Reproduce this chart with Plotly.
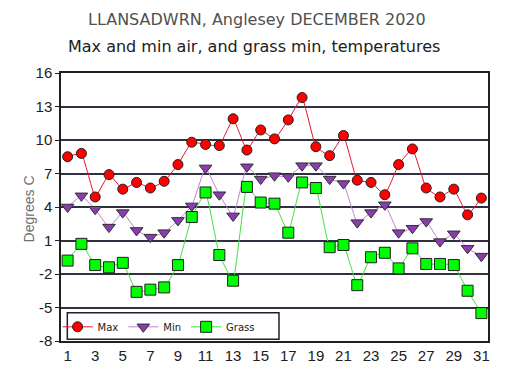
import plotly.graph_objects as go

days = list(range(1, 32))
max_temp = [8.5, 8.8, 4.9, 6.9, 5.6, 6.2, 5.7, 6.3, 7.8, 9.8, 9.6, 9.5, 11.9, 9.1, 10.9, 10.1,
            11.8, 13.8, 9.4, 8.6, 10.4, 6.4, 6.2, 5.1, 7.8, 9.2, 5.7, 4.9, 5.6, 3.3, 4.8]
min_temp = [4.0, 5.0, 3.8, 2.2, 3.5, 1.9, 1.3, 1.7, 2.8, 4.1, 7.5, 5.1, 3.2, 7.6, 6.5, 6.8,
            6.7, 7.7, 7.7, 6.5, 6.1, 2.6, 3.5, 4.2, 1.7, 2.1, 2.7, 0.9, 1.6, 0.3, -0.4]
grass_temp = [-0.8, 0.7, -1.2, -1.4, -1.0, -3.6, -3.4, -3.2, -1.2, 3.1, 5.3, -0.3, -2.6, 5.8, 4.4, 4.3,
              1.7, 6.2, 5.7, 0.4, 0.6, -3.0, -0.5, -0.1, -1.5, 0.3, -1.1, -1.1, -1.2, -3.5, -5.5]
y_ticks = [-8, -5, -2, 1, 4, 7, 10, 13, 16]
y_tick_labels = ["-8", "-5", "-2", "1", "4", "7", "10", "13", "16"]
x_ticks = list(range(1, 32, 2))
x_tick_labels = [str(v) for v in x_ticks]

fig = go.Figure()
fig.add_trace(go.Scatter(x=days, y=max_temp, name="Max", mode="lines+markers",
                         line=dict(color="#e8102a", width=1, shape="spline", smoothing=0.3),
                         marker=dict(symbol="circle", size=10, color="#ff0000",
                                     line=dict(color="#202020", width=1))))
fig.add_trace(go.Scatter(x=days, y=min_temp, name="Min", mode="lines+markers",
                         line=dict(color="#c080d0", width=1, shape="spline", smoothing=0.3),
                         marker=dict(symbol="triangle-down", size=11, color="#8a3cb0",
                                     line=dict(color="#303030", width=1))))
fig.add_trace(go.Scatter(x=days, y=grass_temp, name="Grass", mode="lines+markers",
                         line=dict(color="#40e040", width=1, shape="spline", smoothing=0.3),
                         marker=dict(symbol="square", size=11, color="#00ff00",
                                     line=dict(color="#202020", width=1))))

fig.update_layout(
    width=501, height=368,
    margin=dict(l=53, r=21, t=65, b=35, autoexpand=False),
    paper_bgcolor="white", plot_bgcolor="white",
    showlegend=True,
    legend=dict(orientation="h", x=-0.008, y=0.107, xanchor="left", yanchor="top",
                bgcolor="rgba(0,0,0,0)", borderwidth=0,
                font=dict(family="DejaVu Sans", size=10, color="#202020"),
                itemwidth=30),
    shapes=[
        dict(type="rect", xref="paper", yref="paper", x0=0.0148, x1=0.5105, y0=0.0063, y1=0.1056,
             fillcolor="white", line=dict(color="#202020", width=1.5), layer="above"),
    ],
    annotations=[
        dict(text="LLANSADWRN, Anglesey DECEMBER 2020", xref="paper", yref="paper",
             x=0.459, y=1.0, yshift=54, xanchor="center", yanchor="middle", showarrow=False,
             font=dict(family="DejaVu Sans", size=16, color="#505050")),
        dict(text="Max and min air, and grass min, temperatures", xref="paper", yref="paper",
             x=0.453, y=1.0, yshift=27, xanchor="center", yanchor="middle", showarrow=False,
             font=dict(family="DejaVu Sans", size=16, color="#202020")),
        dict(text="Degrees C", xref="paper", yref="paper", x=0, y=0.491, xshift=-32,
             textangle=-90, xanchor="center", yanchor="middle", showarrow=False,
             font=dict(family="Liberation Sans", size=14, color="#707070")),
    ],
)
fig.update_xaxes(range=[0.52, 31.48], tickvals=x_ticks, ticktext=x_tick_labels,
                 showgrid=False, zeroline=False, automargin=False,
                 showline=True, linecolor="#202020", linewidth=1.5, mirror=True,
                 ticks="", tickfont=dict(family="Liberation Sans", size=15, color="#202020"))
fig.update_yaxes(range=[-8, 16], tickvals=y_ticks, ticktext=y_tick_labels,
                 showgrid=True, gridcolor="#303040", gridwidth=1.5, automargin=False,
                 zeroline=False, showline=True, linecolor="#202020", linewidth=1.5, mirror=True,
                 ticks="outside", ticklen=4, tickcolor="#202020",
                 tickfont=dict(family="Liberation Sans", size=15, color="#202020"))

fig.write_html("out.html")
